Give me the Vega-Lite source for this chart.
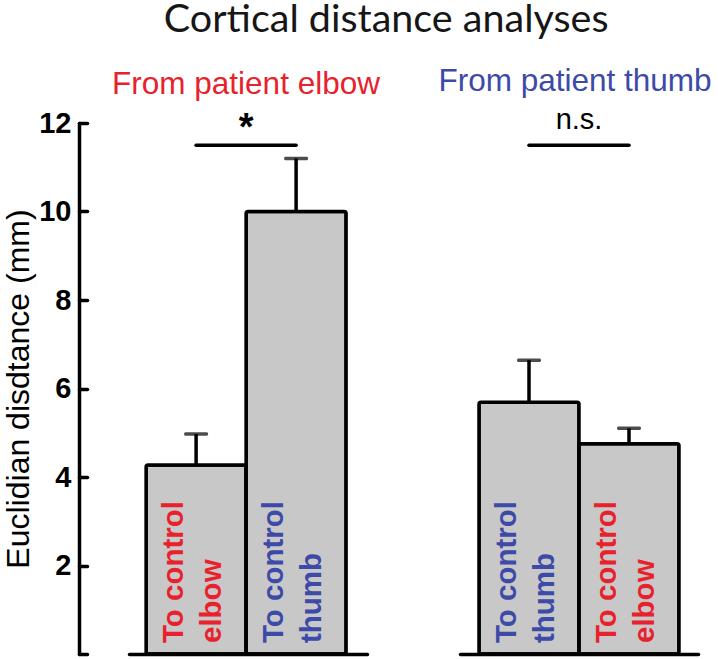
{
  "$schema": "https://vega.github.io/schema/vega-lite/v6.json",
  "background": "white",
  "padding": {"left": 2, "top": 0, "right": 0, "bottom": 2},
  "bounds": "flush",
  "spacing": 93,
  "title": {"text": "Cortical distance analyses", "font": "Lato", "fontSize": 39.5, "fontWeight": "normal", "color": "#161616", "anchor": "middle", "dx": 29, "offset": 25},
  "config": {"view": {"stroke": null}, "axis": {"grid": false}},
  "datasets": {
    "bars": [
      {"group": "elbow", "key": "a", "value": 4.27, "upper": 4.97, "label": "To control\nelbow", "tcolor": "#e8222c"},
      {"group": "elbow", "key": "b", "value": 10.0, "upper": 11.2, "label": "To control\nthumb", "tcolor": "#3d4aa8"},
      {"group": "thumb", "key": "c", "value": 5.69, "upper": 6.64, "label": "To control\nthumb", "tcolor": "#3d4aa8"},
      {"group": "thumb", "key": "d", "value": 4.75, "upper": 5.1, "label": "To control\nelbow", "tcolor": "#e8222c"}
    ],
    "sig": [
      {"group": "elbow", "from": "a", "to": "b", "mark": "*"},
      {"group": "thumb", "from": "c", "to": "d", "mark": "n.s."}
    ]
  },
  "hconcat": [
    {
      "width": 238,
      "height": 531,
      "title": {"text": "From patient elbow", "color": "#e8222c", "font": "Liberation Sans", "fontSize": 31.5, "fontWeight": "normal", "anchor": "middle", "dx": -2, "offset": 9},
      "layer": [
        {
          "data": {"name": "bars"},
          "transform": [{"filter": "datum.group === 'elbow'"}],
          "layer": [
            {
              "mark": {"type": "bar", "fill": "#c8c8c8", "stroke": "black", "strokeWidth": 3.5, "cornerRadius": 2},
              "encoding": {
                "x": {"field": "key", "type": "nominal", "scale": {"paddingInner": 0, "paddingOuter": 0.19, "align": 0.45},
                  "axis": {"title": null, "labels": false, "ticks": false, "domain": true, "domainColor": "black", "domainWidth": 3.5, "domainCap": "round"}},
                "y": {"field": "value", "type": "quantitative", "scale": {"domain": [0, 12], "nice": false},
                  "axis": {"title": "Euclidian disdtance (mm)", "values": [0, 2, 4, 6, 8, 10, 12], "labelExpr": "datum.value == 0 ? '' : datum.label",
                    "offset": 50, "domainColor": "black", "domainWidth": 3.5, "domainCap": "round", "tickColor": "black", "tickWidth": 3.5, "tickSize": -8, "tickCap": "round",
                    "labelPadding": 16, "labelFont": "Liberation Sans", "labelFontWeight": "bold", "labelFontSize": 29, "labelColor": "black",
                    "titleFont": "Liberation Sans", "titleFontSize": 32, "titleFontWeight": "normal", "titleColor": "black", "titlePadding": 3}}
              }
            },
            {
              "mark": {"type": "rule", "color": "black", "strokeWidth": 3.5},
              "encoding": {
                "x": {"field": "key", "type": "nominal"},
                "y": {"field": "value", "type": "quantitative"},
                "y2": {"field": "upper"}
              }
            },
            {
              "mark": {"type": "tick", "color": "black", "thickness": 3.5, "size": 24, "cornerRadius": 1.5},
              "encoding": {
                "x": {"field": "key", "type": "nominal"},
                "y": {"field": "upper", "type": "quantitative"}
              }
            },
            {
              "mark": {"type": "text", "angle": 270, "align": "left", "baseline": "alphabetic", "dx": 11, "dy": -13, "lineHeight": 38, "lineBreak": "\n", "font": "Liberation Sans", "fontWeight": "bold", "fontSize": 29.5},
              "encoding": {
                "x": {"field": "key", "type": "nominal"},
                "y": {"datum": 0},
                "text": {"field": "label"},
                "color": {"field": "tcolor", "type": "nominal", "scale": null}
              }
            }
          ]
        },
        {
          "data": {"name": "sig"},
          "transform": [{"filter": "datum.group === 'elbow'"}],
          "layer": [
            {
              "mark": {"type": "rule", "color": "black", "strokeWidth": 3.5, "strokeCap": "round"},
              "encoding": {
                "x": {"field": "from", "type": "nominal"},
                "x2": {"field": "to"},
                "y": {"datum": 11.5}
              }
            },
            {
              "mark": {"type": "text", "font": "Liberation Sans", "fontWeight": "bold", "fontSize": 38, "baseline": "alphabetic", "align": "center", "color": "black"},
              "encoding": {
                "x": {"field": "from", "type": "nominal", "bandPosition": 1},
                "y": {"datum": 11.62},
                "text": {"field": "mark"}
              }
            }
          ]
        }
      ]
    },
    {
      "width": 238,
      "height": 531,
      "title": {"text": "From patient thumb", "color": "#3d4aa8", "font": "Liberation Sans", "fontSize": 31.5, "fontWeight": "normal", "anchor": "middle", "dx": -4, "offset": 9},
      "layer": [
        {
          "data": {"name": "bars"},
          "transform": [{"filter": "datum.group === 'thumb'"}],
          "layer": [
            {
              "mark": {"type": "bar", "fill": "#c8c8c8", "stroke": "black", "strokeWidth": 3.5, "cornerRadius": 2},
              "encoding": {
                "x": {"field": "key", "type": "nominal", "scale": {"paddingInner": 0, "paddingOuter": 0.19, "align": 0.5},
                  "axis": {"title": null, "labels": false, "ticks": false, "domain": true, "domainColor": "black", "domainWidth": 3.5, "domainCap": "round"}},
                "y": {"field": "value", "type": "quantitative", "scale": {"domain": [0, 12], "nice": false}, "axis": null}
              }
            },
            {
              "mark": {"type": "rule", "color": "black", "strokeWidth": 3.5},
              "encoding": {
                "x": {"field": "key", "type": "nominal"},
                "y": {"field": "value", "type": "quantitative"},
                "y2": {"field": "upper"}
              }
            },
            {
              "mark": {"type": "tick", "color": "black", "thickness": 3.5, "size": 24, "cornerRadius": 1.5},
              "encoding": {
                "x": {"field": "key", "type": "nominal"},
                "y": {"field": "upper", "type": "quantitative"}
              }
            },
            {
              "mark": {"type": "text", "angle": 270, "align": "left", "baseline": "alphabetic", "dx": 11, "dy": -13, "lineHeight": 38, "lineBreak": "\n", "font": "Liberation Sans", "fontWeight": "bold", "fontSize": 29.5},
              "encoding": {
                "x": {"field": "key", "type": "nominal"},
                "y": {"datum": 0},
                "text": {"field": "label"},
                "color": {"field": "tcolor", "type": "nominal", "scale": null}
              }
            }
          ]
        },
        {
          "data": {"name": "sig"},
          "transform": [{"filter": "datum.group === 'thumb'"}],
          "layer": [
            {
              "mark": {"type": "rule", "color": "black", "strokeWidth": 3.5, "strokeCap": "round"},
              "encoding": {
                "x": {"field": "from", "type": "nominal"},
                "x2": {"field": "to"},
                "y": {"datum": 11.5}
              }
            },
            {
              "mark": {"type": "text", "font": "Liberation Sans", "fontWeight": "normal", "fontSize": 29, "baseline": "alphabetic", "align": "center", "color": "black"},
              "encoding": {
                "x": {"field": "from", "type": "nominal", "bandPosition": 1},
                "y": {"datum": 11.86},
                "text": {"field": "mark"}
              }
            }
          ]
        }
      ]
    }
  ]
}
